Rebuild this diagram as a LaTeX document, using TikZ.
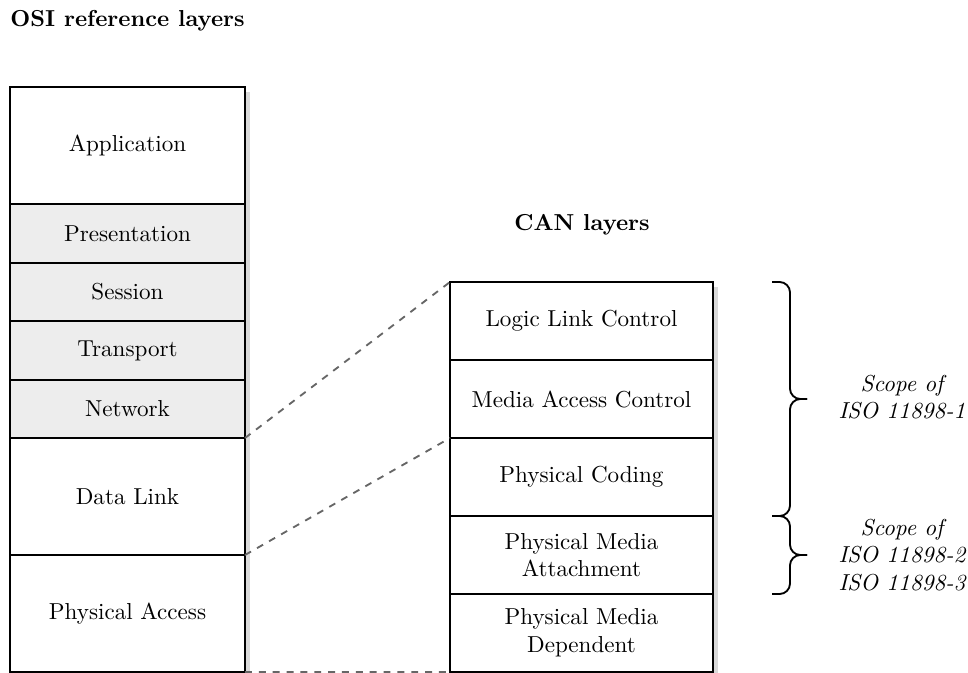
\documentclass[tikz,border=0pt]{standalone}
\usetikzlibrary{shadows,calc}
\def\px{0.433pt}
\begin{document}
\begin{tikzpicture}[x=0.433pt,y=-0.433pt,
  layer/.style={draw=black, line width=0.8pt, fill=white, inner sep=0pt,
    outer sep=0pt, align=center, drop shadow={opacity=0.3}},
  osi/.style={layer, minimum width=235*\px, minimum height=#1*\px},
  upper/.style={osi=#1, fill=black!7},
  can/.style={layer, minimum width=263*\px, minimum height=78*\px},
  title/.style={font=\bfseries, inner sep=0pt},
  link/.style={dashed, draw=black!60, line width=0.8pt},
  bracket/.style={draw=black, line width=0.8pt, rounded corners=4.5pt},
  scopetext/.style={font=\itshape, align=center, inner sep=0pt}]
\useasboundingbox (0,0) rectangle (968,673);

% OSI reference model
\node[title, anchor=west] (osititle) at (10,21) {OSI reference layers};
\node[osi=117]   (app)   at (127.5,145.5) {Application};
\node[upper=59]  (pres)  at (127.5,233.5) {Presentation};
\node[upper=58]  (sess)  at (127.5,292) {Session};
\node[upper=59]  (trans) at (127.5,350.5) {Transport};
\node[upper=58]  (net)   at (127.5,409) {Network};
\node[osi=117]   (dl)    at (127.5,496.5) {Data Link};
\node[osi=117]   (pa)    at (127.5,613.5) {Physical Access};

% CAN layers
\node[title] (cantitle) at (582,225) {CAN layers};
\node[can] (llc) at (581.5,321) {Logic Link Control};
\node[can] (mac) at (581.5,399) {Media Access Control};
\node[can] (pcs) at (581.5,477) {Physical Coding};
\node[can] (pma) at (581.5,555) {Physical Media\\Attachment};
\node[can] (pmd) at (581.5,633) {Physical Media\\Dependent};

% mapping between the two stacks
\draw[link] (net.south east) -- (llc.north west);
\draw[link] (dl.south east) -- (pcs.north west);
\draw[link] (pa.south east) -- (pmd.south west);

% curly brackets marking the scope of each standard
\coordinate (b1top) at ([xshift=59*\px]llc.north east);
\coordinate (b1bot) at ([xshift=59*\px]pcs.south east);
\coordinate (b2bot) at ([xshift=59*\px]pma.south east);
\coordinate (tip1) at ($(b1top)!0.5!(b1bot)+(35,0)$);
\coordinate (tip2) at ($(b1bot)!0.5!(b2bot)+(35,0)$);
\draw[bracket] (b1top) -| ([xshift=-17*\px]tip1) -- (tip1);
\draw[bracket] (tip1) -- ([xshift=-17*\px]tip1) |- (b1bot);
\draw[bracket] (b1bot) -| ([xshift=-17*\px]tip2) -- (tip2);
\draw[bracket] (tip2) -- ([xshift=-17*\px]tip2) |- (b2bot);
\node[scopetext] (iso1) at (902,397) {Scope of\\ISO 11898-1};
\node[scopetext] (iso23) at (902,555) {Scope of\\ISO 11898-2\\ISO 11898-3};
\end{tikzpicture}
\end{document}
